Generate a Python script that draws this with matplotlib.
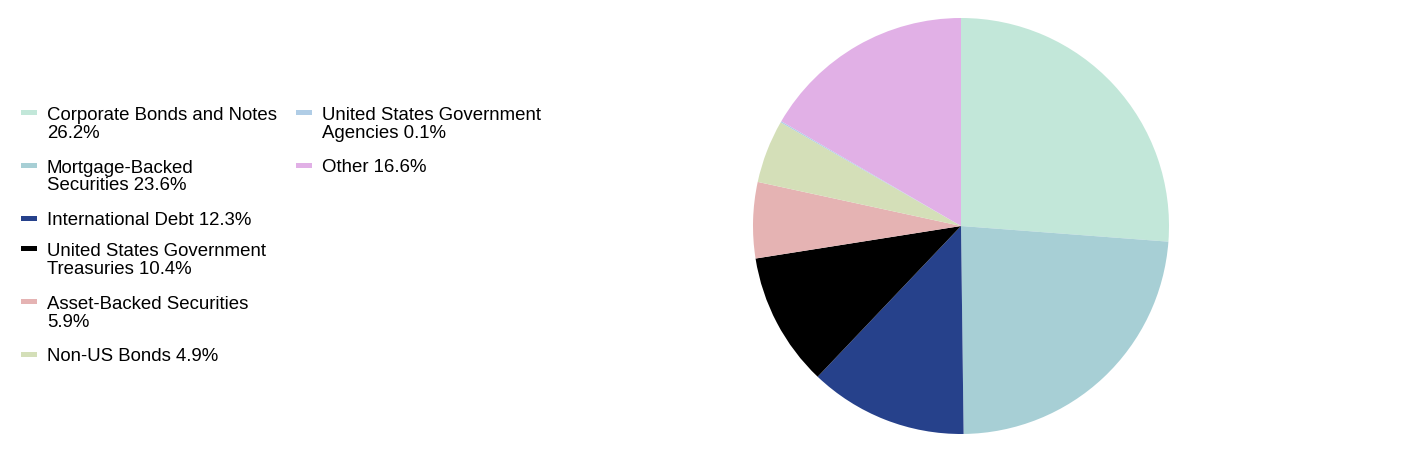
import matplotlib
matplotlib.use("Agg")
import matplotlib.pyplot as plt
from matplotlib.patches import Rectangle

plt.rcParams["font.family"] = ["Liberation Sans", "DejaVu Sans"]

# portfolio composition, clockwise from 12 o'clock
labels = [
    "Corporate Bonds and Notes\n26.2%",
    "Mortgage-Backed\nSecurities 23.6%",
    "International Debt 12.3%",
    "United States Government\nTreasuries 10.4%",
    "Asset-Backed Securities\n5.9%",
    "Non-US Bonds 4.9%",
    "United States Government\nAgencies 0.1%",
    "Other 16.6%",
]
values = [26.2, 23.6, 12.3, 10.4, 5.9, 4.9, 0.1, 16.6]
colors = ["#c2e7d9", "#a7cfd5", "#26418b", "#000000",
          "#e5b3b3", "#d4dfb8", "#b0cde6", "#e1b0e6"]

W, H = 1412, 464
fig = plt.figure(figsize=(W / 100, H / 100), dpi=100)

# pie
cx, cy, r = 961, 227, 208
ax = fig.add_axes([(cx - r) / W, (H - cy - r) / H, 2 * r / W, 2 * r / H])
ax.pie(values, colors=colors, startangle=90, counterclock=False,
       wedgeprops=dict(linewidth=0))
ax.set_xlim(-1, 1)
ax.set_ylim(-1, 1)
ax.set_aspect("equal")

# legend drawn by hand so the swatch sits on the first line
line_h = 18.5
columns = [(0, 6, 21, 47), (6, 8, 296, 322)]
for start, stop, mx, tx in columns:
    y = 119
    for i in range(start, stop):
        nlines = labels[i].count("\n") + 1
        # va="baseline" lines up the last line, so shift down
        y_last = y + line_h * (nlines - 1)
        fig.text(tx / W, 1 - y_last / H, labels[i], fontsize=13.4,
                 va="baseline", ha="left", linespacing=1.05)
        fig.patches.append(Rectangle((mx / W, 1 - (y - 3.5) / H),
                                     16 / W, 5 / H, transform=fig.transFigure,
                                     facecolor=colors[i], edgecolor="none"))
        y += 8 + 22.5 * nlines

fig.savefig("out.png", dpi=100)
